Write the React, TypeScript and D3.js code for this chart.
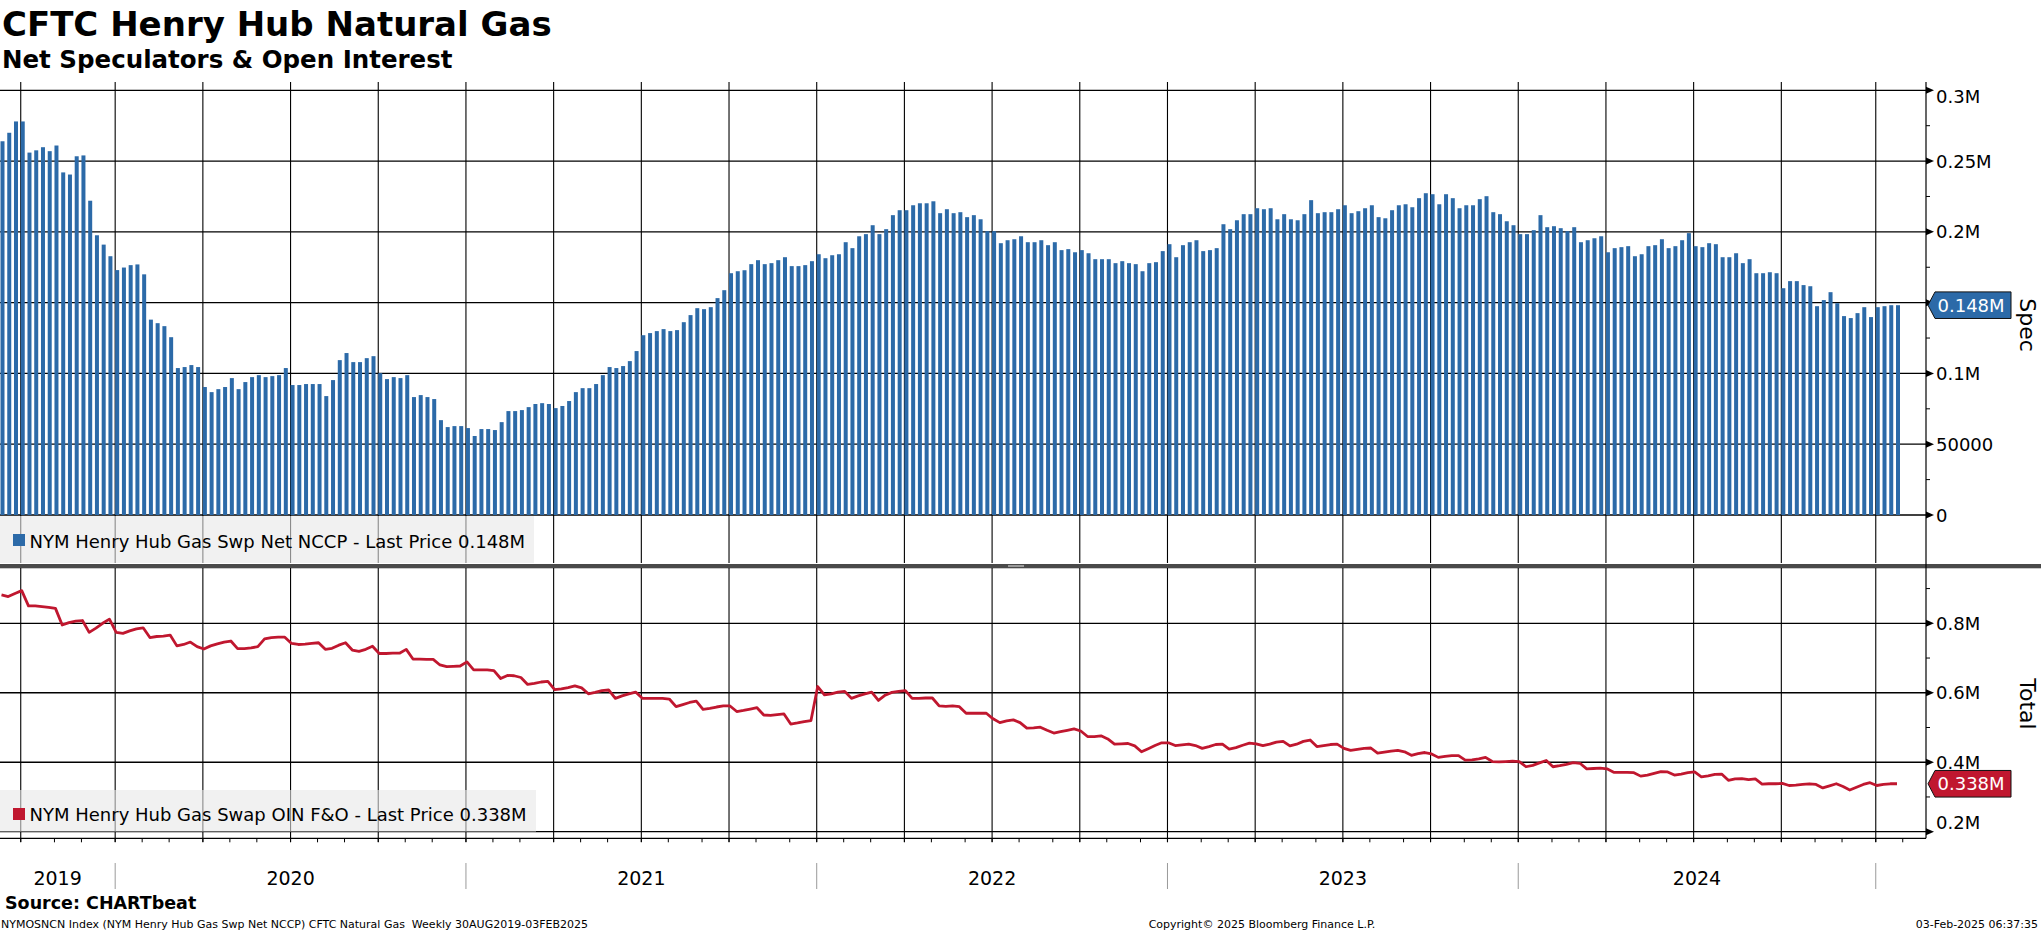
import React from 'react';
import * as d3 from 'd3';

// Net speculators (thousands of contracts), weekly from 10-Sep-2019 to 28-Jan-2025
const specValues = [
  264,270,278,278,256,257.6,259.8,257,261,242,240.5,253.4,254,222,197.6,191,182.8,173,174.8,176.5,
  177,170,138,135.5,133.4,125.6,103.8,104.5,105.9,104.5,90.4,86.8,88.9,90.4,96.7,88.9,93.9,97.4,98.8,97.4,
  98.1,98.8,103.8,91.8,91.8,92.5,92.5,92.5,84,95.3,109.4,114.4,108,108,110.8,112.2,100.2,96,97.4,96.7,
  98.8,83.3,84.7,83.3,81.9,67,62.1,62.8,62.8,61.4,55.8,60.7,60.7,60,65.6,73.4,73.4,74.1,76.2,78.4,
  79,78.4,75.5,77,80.5,86.8,89.6,89.6,92.5,98.8,104.5,103.8,105.2,108.7,115.8,127,128.5,129.9,131.3,129.9,
  130.6,136.2,141.2,146.1,
  145.4,146.8,153.2,158.8,170.8,172.2,172.9,177.2,180,177.2,177.9,180,182.1,175.8,175.8,176.5,179.3,184.2,181.4,183.5,
  184.2,192.7,188.5,196.9,198.4,204.7,198.4,201.9,211.8,215.3,215.3,218.8,220.2,220.2,221.6,213.2,216,213.2,213.9,210.4,
  211.8,208.9,200.5,200.5,192,194.1,194.8,196.9,192.7,192.7,194.1,190.6,192.7,187.1,187.8,185.6,187.1,184.9,180.7,180.7,
  180.7,177.9,179.3,177.9,177.2,172.2,177.9,178.6,186.4,191.3,182.1,190.6,192.7,194.1,186.4,187.1,188.5,205.4,201.9,208.2,
  212.5,212.5,216.7,216,216.7,208.9,212.5,208.9,208.2,212.5,222.4,213.2,213.9,213.9,216,218.8,213.2,214.6,216.7,218.8,
  210.4,209.6,215.3,218.8,
  219.5,217.4,223.8,227.3,226.6,219.5,226.6,223.8,216.7,218.8,218.8,223.1,225.2,213.9,212.5,207.5,204.7,198.4,198.4,201.2,
  211.8,203.3,204,202.6,200.5,203.3,192.7,194.1,195.5,196.9,185.6,188.5,189.2,189.9,182.8,184.2,189.9,190.6,194.8,188.5,
  189.9,194.1,199.1,189.9,189.2,192,191.3,182.1,182.1,184.9,177.9,180.7,170.8,170.8,171.5,170.8,160.2,165.2,165.2,162.4,
  161.6,147.5,151.8,157.4,149.6,140.5,139.1,142.6,146.8,139.8,146.8,147.5,148.2,148.2
];

// Total open interest (millions of contracts), same weeks
const totalValues = [
  .882,.877,.886,.894,.850,.850,.848,.846,.843,.795,.802,.806,.808,.774,.786,.800,.812,.774,.771,.778,
  .784,.787,.759,.762,.763,.766,.735,.739,.746,.733,.726,.735,.741,.746,.749,.727,.727,.729,.733,.755,
  .759,.760,.760,.742,.739,.740,.742,.744,.725,.728,.737,.744,.723,.719,.725,.734,.713,.713,.714,.714,
  .725,.697,.697,.696,.696,.680,.675,.676,.677,.689,.666,.666,.666,.664,.641,.650,.649,.644,.624,.627,
  .631,.633,.609,.611,.615,.620,.614,.597,.601,.606,.608,.584,.591,.597,.602,.584,.584,.584,.584,.582,
  .560,.566,.572,.576,.552,.555,.559,.562,.562,.546,.549,.553,.557,.536,.535,.537,.539,.510,.513,.517,
  .520,.618,.594,.597,.602,.604,.584,.591,.597,.602,.578,.593,.601,.604,.606,.584,.584,.585,.585,.562,
  .561,.562,.560,.541,.541,.541,.541,.525,
  .514,.519,.522,.514,.498,.499,.501,.492,.484,.488,.492,.496,.490,.474,.474,.476,.467,.452,.453,.454,
  .447,.430,.439,.448,.456,.456,.448,.450,.452,.448,.440,.445,.451,.452,.438,.442,.449,.455,.453,.448,
  .452,.458,.460,.447,.452,.460,.464,.445,.448,.451,.452,.440,.434,.437,.440,.441,.426,.429,.432,.434,
  .430,.420,.425,.428,.424,.414,.417,.419,.419,.406,.407,.410,.414,.402,.401,.402,.403,.402,.387,.391,
  .398,.405,.387,.390,.394,.399,.397,.381,.382,.383,.381,.371,.371,.371,.370,.360,.363,.368,.373,.372,
  .363,.366,.370,.372,.358,.361,.365,.366,.348,.352,.353,.350,.352,.337,.338,.338,.339,.333,.334,.336,
  .338,.336,.326,.332,.338,.330,.320,.328,.336,.341,.333,.336,.338,.338
];

const specTicks = [0, 50, 100, 150, 200, 250, 300];
// label for 0.15M is hidden behind the last-price callout in the reference
const specTickLabels = ['0', '50000', '0.1M', '', '0.2M', '0.25M', '0.3M'];
const specMinor = [25, 75, 125, 175, 225, 275];
const totalTicks = [0.2, 0.4, 0.6, 0.8];
const totalTickLabels = ['0.2M', '0.4M', '0.6M', '0.8M'];
const totalMinor = [0.3, 0.5, 0.7, 0.9];

const FONT = '"DejaVu Sans", Verdana, sans-serif';
const BLUE = '#2c6aa8';
const RED = '#c0172f';

export default function App() {
  const W = 2041, H = 932;
  const axisX = 1926;
  const n = specValues.length;
  const startDate = new Date(Date.UTC(2019, 8, 10));
  const axisDates = d3.utcTuesday.range(startDate, new Date(Date.UTC(2025, 1, 12)));
  const x = d3.scaleLinear().domain([0, 281]).range([0.5, 1896]);
  const ySpec = d3.scaleLinear().domain([0, 300]).range([515, 90.3]);
  const yTot = d3.scaleLinear().domain([0.2, 0.8]).range([831.7, 623.3]);

  const monthTicks: number[] = [];
  const quarterLines: number[] = [];
  const yearLines: { x: number; year: number }[] = [];
  axisDates.forEach((d, i) => {
    if (i === 0) return;
    const m = d.getUTCMonth();
    if (m !== axisDates[i - 1].getUTCMonth()) {
      const xx = x(i);
      if (xx > axisX) return;
      monthTicks.push(xx);
      if (m % 3 === 0) quarterLines.push(xx);
      if (m === 0) yearLines.push({ x: xx, year: d.getUTCFullYear() });
    }
  });
  const yearBounds = [0, ...yearLines.map((d) => d.x), axisX];
  const yearLabels = yearBounds.slice(0, -1).map((b, i) => ({
    x: (b + yearBounds[i + 1]) / 2,
    span: yearBounds[i + 1] - b,
    label: String(2019 + i),
  }));

  const line = d3
    .line<number>()
    .x((_, i) => x(i) + 1)
    .y((v) => yTot(v));

  const last = specValues[n - 1];
  const lastT = totalValues[totalValues.length - 1];
  const callout = (yy: number) =>
    `M${axisX + 2},${yy} L${axisX + 9},${yy - 13.3} L2011,${yy - 13.3} L2011,${yy + 13.3} L${axisX + 9},${yy + 13.3} Z`;

  const tri = (yy: number) => `M${axisX},${yy - 3.5} L${axisX + 8},${yy} L${axisX},${yy + 3.5} Z`;

  return (
    <div style={{ position: 'absolute', left: 0, top: 0 }}>
      <svg width={W} height={H} style={{ display: 'block', background: '#fff' }} fontFamily={FONT}>
        <rect x={0} y={0} width={W} height={H} fill="#fff" />
        {/* Titles */}
        <text x={2} y={36} fontSize={34} fontWeight="bold" fill="#000">CFTC Henry Hub Natural Gas</text>
        <text x={2} y={68} fontSize={24.5} fontWeight="bold" fill="#000">Net Speculators &amp; Open Interest</text>

        {/* Top panel gridlines */}
        {quarterLines.map((q, i) => (
          <line key={'tq' + i} x1={q} x2={q} y1={82} y2={563} stroke="#000" strokeWidth={1.1} />
        ))}
        {specTicks.map((t, i) => (
          <line key={'th' + i} x1={0} x2={axisX} y1={ySpec(t)} y2={ySpec(t)} stroke="#000" strokeWidth={1.3} />
        ))}
        {/* Bars */}
        {specValues.map((v, i) => (
          <rect key={'b' + i} x={x(i)} y={ySpec(v)} width={4} height={ySpec(0) - ySpec(v)} fill={BLUE} />
        ))}
        {/* Top legend */}
        <rect x={0} y={516} width={534} height={47} fill="#e8e8e8" opacity={0.6} />
        <rect x={13} y={534} width={12} height={12} fill={BLUE} />
        <text x={29.5} y={547.5} fontSize={18} fill="#000">NYM Henry Hub Gas Swp Net NCCP - Last Price 0.148M</text>

        {/* Separator */}
        <rect x={0} y={564} width={W} height={4.3} fill="#4a4a4a" />
        <rect x={1008} y={565} width={16} height={2} fill="#9a9a9a" />

        {/* Bottom panel gridlines */}
        {quarterLines.map((q, i) => (
          <line key={'bq' + i} x1={q} x2={q} y1={568} y2={842} stroke="#000" strokeWidth={1.1} />
        ))}
        {totalTicks.map((t, i) => (
          <line key={'bh' + i} x1={0} x2={axisX} y1={yTot(t)} y2={yTot(t)} stroke="#000" strokeWidth={1.3} />
        ))}
        {/* Bottom legend */}
        <rect x={0} y={790} width={536} height={41.7} fill="#e8e8e8" opacity={0.6} />
        <rect x={13} y={808} width={12} height={12} fill={RED} />
        <text x={29.5} y={821} fontSize={18} fill="#000">NYM Henry Hub Gas Swap OIN F&amp;O - Last Price 0.338M</text>
        {/* Line */}
        <path d={line(totalValues) || ''} fill="none" stroke={RED} strokeWidth={2.8} strokeLinejoin="round" />

        {/* X axis */}
        <line x1={0} x2={axisX} y1={838.3} y2={838.3} stroke="#000" strokeWidth={1.2} />
        {monthTicks.map((m, i) => (
          <line key={'mt' + i} x1={m} x2={m} y1={838.3} y2={842.3} stroke="#000" strokeWidth={1} />
        ))}
        {yearLines.map((yl, i) => (
          <line key={'yl' + i} x1={yl.x} x2={yl.x} y1={863} y2={889} stroke="#9a9a9a" strokeWidth={1} />
        ))}
        {yearLabels.filter((d) => d.span > 90).map((d, i) => (
          <text key={'yt' + i} x={d.x} y={885} fontSize={19} textAnchor="middle" fill="#000">{d.label}</text>
        ))}

        {/* Right axis */}
        <line x1={axisX} x2={axisX} y1={82} y2={838.3} stroke="#000" strokeWidth={1.2} />
        {specTicks.map((t, i) => (
          <path key={'stt' + i} d={tri(ySpec(t))} fill="#000" />
        ))}
        {specMinor.map((t, i) => (
          <line key={'sm' + i} x1={axisX} x2={axisX + 4} y1={ySpec(t)} y2={ySpec(t)} stroke="#000" strokeWidth={1} />
        ))}
        {specTicks.map((t, i) =>
          specTickLabels[i] ? (
            <text key={'stl' + i} x={1936} y={(t === 300 ? ySpec(t) + 6.5 : ySpec(t)) + 6.5} fontSize={18} fill="#000">
              {specTickLabels[i]}
            </text>
          ) : null
        )}
        {totalTicks.map((t, i) => (
          <path key={'ttt' + i} d={tri(yTot(t))} fill="#000" />
        ))}
        {totalMinor.map((t, i) => (
          <line key={'tm' + i} x1={axisX} x2={axisX + 4} y1={yTot(t)} y2={yTot(t)} stroke="#000" strokeWidth={1} />
        ))}
        {totalTicks.map((t, i) => (
          <text key={'ttl' + i} x={1936} y={(t === 0.2 ? yTot(t) - 9 : yTot(t)) + 6.5} fontSize={18} fill="#000">
            {totalTickLabels[i]}
          </text>
        ))}

        {/* Callouts */}
        <path d={callout(ySpec(last))} fill={BLUE} stroke="#111" strokeWidth={1} />
        <text x={1937.5} y={ySpec(last) + 6.5} fontSize={18} fill="#fff">0.148M</text>
        <path d={callout(yTot(lastT))} fill={RED} stroke="#111" strokeWidth={1} />
        <text x={1937.5} y={yTot(lastT) + 6.5} fontSize={18} fill="#fff">0.338M</text>

        {/* Axis titles */}
        <text transform="translate(2019.5,325) rotate(90)" fontSize={22} textAnchor="middle" fill="#000">Spec</text>
        <text transform="translate(2019.5,704) rotate(90)" fontSize={22} textAnchor="middle" fill="#000">Total</text>

        {/* Footer */}
        <text x={5} y={908.5} fontSize={17.5} fontWeight="bold" fill="#000">Source: CHARTbeat</text>
        <text x={1} y={927.5} fontSize={11} fill="#000" style={{ whiteSpace: 'pre' }}>NYMOSNCN Index (NYM Henry Hub Gas Swp Net NCCP) CFTC Natural Gas  Weekly 30AUG2019-03FEB2025</text>
        <text x={1262} y={927.5} fontSize={11} textAnchor="middle" fill="#000">Copyright© 2025 Bloomberg Finance L.P.</text>
        <text x={2038} y={927.5} fontSize={11} textAnchor="end" fill="#000">03-Feb-2025 06:37:35</text>
      </svg>
    </div>
  );
}
